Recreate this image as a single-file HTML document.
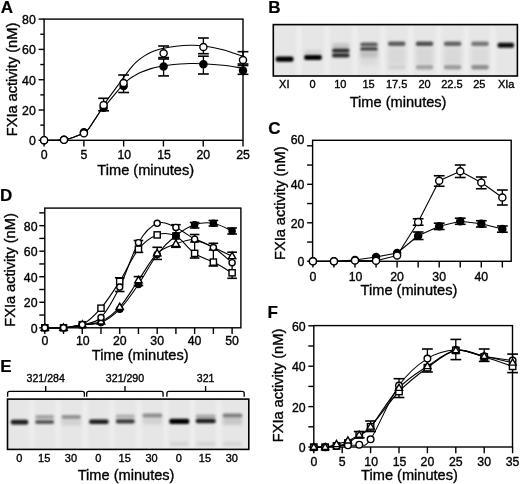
<!DOCTYPE html>
<html><head><meta charset="utf-8"><title>Figure</title>
<style>
html,body{margin:0;padding:0;background:#fff;}
body{width:520px;height:484px;overflow:hidden;font-family:"Liberation Sans", sans-serif;}
svg{display:block;}
</style></head><body>
<svg width="520" height="484" viewBox="0 0 520 484" font-family='"Liberation Sans", sans-serif' style="opacity:0.999">
<defs><filter id="bl" x="-50%" y="-150%" width="200%" height="400%"><feGaussianBlur stdDeviation="0.8"/></filter><filter id="bl2" x="-50%" y="-150%" width="200%" height="400%"><feGaussianBlur stdDeviation="1.6"/></filter><filter id="bl3" x="-30%" y="-30%" width="160%" height="160%"><feGaussianBlur stdDeviation="2.2"/></filter></defs>
<rect width="520" height="484" fill="#fff"/>
<text x="0.8" y="12.6" font-size="17" text-anchor="start" font-weight="bold" stroke="#000" stroke-width="0.2">A</text>
<rect x="44.1" y="19.1" width="198.9" height="121.2" fill="none" stroke="#000" stroke-width="1.4"/>
<line x1="38.6" y1="140.3" x2="44.1" y2="140.3" stroke="#000" stroke-width="1.4"/>
<line x1="38.6" y1="110" x2="44.1" y2="110" stroke="#000" stroke-width="1.4"/>
<line x1="38.6" y1="79.7" x2="44.1" y2="79.7" stroke="#000" stroke-width="1.4"/>
<line x1="38.6" y1="49.4" x2="44.1" y2="49.4" stroke="#000" stroke-width="1.4"/>
<line x1="38.6" y1="19.1" x2="44.1" y2="19.1" stroke="#000" stroke-width="1.4"/>
<line x1="40.3" y1="125.15" x2="44.1" y2="125.15" stroke="#000" stroke-width="1.4"/>
<line x1="40.3" y1="94.85" x2="44.1" y2="94.85" stroke="#000" stroke-width="1.4"/>
<line x1="40.3" y1="64.55" x2="44.1" y2="64.55" stroke="#000" stroke-width="1.4"/>
<line x1="40.3" y1="34.25" x2="44.1" y2="34.25" stroke="#000" stroke-width="1.4"/>
<line x1="44.1" y1="140.3" x2="44.1" y2="146.5" stroke="#000" stroke-width="1.4"/>
<line x1="83.88" y1="140.3" x2="83.88" y2="146.5" stroke="#000" stroke-width="1.4"/>
<line x1="123.66" y1="140.3" x2="123.66" y2="146.5" stroke="#000" stroke-width="1.4"/>
<line x1="163.44" y1="140.3" x2="163.44" y2="146.5" stroke="#000" stroke-width="1.4"/>
<line x1="203.22" y1="140.3" x2="203.22" y2="146.5" stroke="#000" stroke-width="1.4"/>
<line x1="243" y1="140.3" x2="243" y2="146.5" stroke="#000" stroke-width="1.4"/>
<text x="35.8" y="145.3" font-size="12.3" text-anchor="end" font-weight="normal" stroke="#000" stroke-width="0.35">0</text>
<text x="35.8" y="115" font-size="12.3" text-anchor="end" font-weight="normal" stroke="#000" stroke-width="0.35">20</text>
<text x="35.8" y="84.7" font-size="12.3" text-anchor="end" font-weight="normal" stroke="#000" stroke-width="0.35">40</text>
<text x="35.8" y="54.4" font-size="12.3" text-anchor="end" font-weight="normal" stroke="#000" stroke-width="0.35">60</text>
<text x="35.8" y="24.1" font-size="12.3" text-anchor="end" font-weight="normal" stroke="#000" stroke-width="0.35">80</text>
<text x="44.1" y="158.6" font-size="12.3" text-anchor="middle" font-weight="normal" stroke="#000" stroke-width="0.35">0</text>
<text x="83.88" y="158.6" font-size="12.3" text-anchor="middle" font-weight="normal" stroke="#000" stroke-width="0.35">5</text>
<text x="124.26" y="158.6" font-size="12.3" text-anchor="middle" font-weight="normal" stroke="#000" stroke-width="0.35">10</text>
<text x="164.04" y="158.6" font-size="12.3" text-anchor="middle" font-weight="normal" stroke="#000" stroke-width="0.35">15</text>
<text x="203.22" y="158.6" font-size="12.3" text-anchor="middle" font-weight="normal" stroke="#000" stroke-width="0.35">20</text>
<text x="243" y="158.6" font-size="12.3" text-anchor="middle" font-weight="normal" stroke="#000" stroke-width="0.35">25</text>
<text x="0" y="0" font-size="14.6" text-anchor="middle" stroke="#000" stroke-width="0.35" transform="translate(16.58,79.5) rotate(-90)">FXIa activity (nM)</text>
<text x="145.75" y="174.7" font-size="14.6" text-anchor="middle" font-weight="normal" stroke="#000" stroke-width="0.35">Time (minutes)</text>
<path d="M44,140.3 C46,140.28 52.77,140.32 56,140.2 C59.23,140.08 61.07,139.88 63.4,139.6 C65.73,139.32 67.57,139.17 70,138.5 C72.43,137.83 75.73,136.55 78,135.6 C80.27,134.65 81.93,133.82 83.6,132.8 C85.27,131.78 86.27,131.5 88,129.5 C89.73,127.5 92.1,123.63 94,120.8 C95.9,117.97 97.82,115 99.4,112.5 C100.98,110 102,108.17 103.5,105.8 C105,103.43 106.03,101.67 108.4,98.3 C110.77,94.93 114.93,89.38 117.7,85.6 C120.47,81.82 122.58,78.82 125,75.6 C127.42,72.38 129.95,68.87 132.2,66.3 C134.45,63.73 136.4,61.98 138.5,60.2 C140.6,58.42 142.72,56.92 144.8,55.6 C146.88,54.28 148.93,53.25 151,52.3 C153.07,51.35 155.1,50.57 157.2,49.9 C159.3,49.23 160.47,48.9 163.6,48.3 C166.73,47.7 171.6,46.8 176,46.3 C180.4,45.8 185.5,45.38 190,45.3 C194.5,45.22 197.5,45.05 203,45.8 C208.5,46.55 216.33,48.05 223,49.8 C229.67,51.55 239.67,55.22 243,56.3" fill="none" stroke="#000" stroke-width="1.1"/>
<path d="M44,140.3 C46,140.28 52.77,140.32 56,140.2 C59.23,140.08 61.07,139.88 63.4,139.6 C65.73,139.32 67.57,139.17 70,138.5 C72.43,137.83 75.73,136.55 78,135.6 C80.27,134.65 81.93,133.82 83.6,132.8 C85.27,131.78 86.27,131.5 88,129.5 C89.73,127.5 92.1,123.63 94,120.8 C95.9,117.97 97.82,114.75 99.4,112.5 C100.98,110.25 102.17,108.85 103.5,107.3 C104.83,105.75 105.03,105.95 107.4,103.2 C109.77,100.45 114.43,94.53 117.7,90.8 C120.97,87.07 124.12,83.37 127,80.8 C129.88,78.23 132.67,76.83 135,75.4 C137.33,73.97 138.33,73.33 141,72.2 C143.67,71.07 147.88,69.53 151,68.6 C154.12,67.67 156.87,67.17 159.7,66.6 C162.53,66.03 164.62,65.63 168,65.2 C171.38,64.77 176.33,64.28 180,64 C183.67,63.72 186.17,63.55 190,63.5 C193.83,63.45 197.5,63.4 203,63.7 C208.5,64 216.33,64.55 223,65.3 C229.67,66.05 239.67,67.72 243,68.2" fill="none" stroke="#000" stroke-width="1.1"/>
<line x1="103.6" y1="98.3" x2="103.6" y2="110.8" stroke="#000" stroke-width="1.3"/>
<line x1="98.2" y1="98.3" x2="109" y2="98.3" stroke="#000" stroke-width="1.6"/>
<line x1="98.2" y1="110.8" x2="109" y2="110.8" stroke="#000" stroke-width="1.6"/>
<line x1="123.6" y1="75" x2="123.6" y2="92.5" stroke="#000" stroke-width="1.3"/>
<line x1="118.2" y1="75" x2="129" y2="75" stroke="#000" stroke-width="1.6"/>
<line x1="118.2" y1="92.5" x2="129" y2="92.5" stroke="#000" stroke-width="1.6"/>
<line x1="163.6" y1="46" x2="163.6" y2="57.6" stroke="#000" stroke-width="1.3"/>
<line x1="158.2" y1="46" x2="169" y2="46" stroke="#000" stroke-width="1.6"/>
<line x1="158.2" y1="57.6" x2="169" y2="57.6" stroke="#000" stroke-width="1.6"/>
<line x1="163.6" y1="59" x2="163.6" y2="75.9" stroke="#000" stroke-width="1.3"/>
<line x1="158.2" y1="59" x2="169" y2="59" stroke="#000" stroke-width="1.6"/>
<line x1="158.2" y1="75.9" x2="169" y2="75.9" stroke="#000" stroke-width="1.6"/>
<line x1="203.4" y1="38" x2="203.4" y2="53.7" stroke="#000" stroke-width="1.3"/>
<line x1="198" y1="38" x2="208.8" y2="38" stroke="#000" stroke-width="1.6"/>
<line x1="198" y1="53.7" x2="208.8" y2="53.7" stroke="#000" stroke-width="1.6"/>
<line x1="203.4" y1="56.2" x2="203.4" y2="74" stroke="#000" stroke-width="1.3"/>
<line x1="198" y1="56.2" x2="208.8" y2="56.2" stroke="#000" stroke-width="1.6"/>
<line x1="198" y1="74" x2="208.8" y2="74" stroke="#000" stroke-width="1.6"/>
<line x1="243" y1="51.7" x2="243" y2="64" stroke="#000" stroke-width="1.3"/>
<line x1="237.6" y1="51.7" x2="248.4" y2="51.7" stroke="#000" stroke-width="1.6"/>
<line x1="237.6" y1="64" x2="248.4" y2="64" stroke="#000" stroke-width="1.6"/>
<line x1="243" y1="65.5" x2="243" y2="74.3" stroke="#000" stroke-width="1.3"/>
<line x1="237.6" y1="65.5" x2="248.4" y2="65.5" stroke="#000" stroke-width="1.6"/>
<line x1="237.6" y1="74.3" x2="248.4" y2="74.3" stroke="#000" stroke-width="1.6"/>
<circle cx="44.1" cy="140.2" r="3.55" fill="#000" stroke="#000" stroke-width="1.4"/>
<circle cx="64" cy="139.8" r="3.55" fill="#000" stroke="#000" stroke-width="1.4"/>
<circle cx="83.9" cy="132.2" r="3.55" fill="#000" stroke="#000" stroke-width="1.4"/>
<circle cx="103.6" cy="107.8" r="3.55" fill="#000" stroke="#000" stroke-width="1.4"/>
<circle cx="123.6" cy="85.9" r="3.55" fill="#000" stroke="#000" stroke-width="1.4"/>
<circle cx="163.6" cy="66.6" r="3.55" fill="#000" stroke="#000" stroke-width="1.4"/>
<circle cx="203.4" cy="64.3" r="3.55" fill="#000" stroke="#000" stroke-width="1.4"/>
<circle cx="243" cy="70.5" r="3.55" fill="#000" stroke="#000" stroke-width="1.4"/>
<circle cx="44.1" cy="140.2" r="3.55" fill="#fff" stroke="#000" stroke-width="1.4"/>
<circle cx="64" cy="139.8" r="3.55" fill="#fff" stroke="#000" stroke-width="1.4"/>
<circle cx="83.9" cy="133.3" r="3.55" fill="#fff" stroke="#000" stroke-width="1.4"/>
<circle cx="103.6" cy="105" r="3.55" fill="#fff" stroke="#000" stroke-width="1.4"/>
<circle cx="123.6" cy="83" r="3.55" fill="#fff" stroke="#000" stroke-width="1.4"/>
<circle cx="163.6" cy="53.3" r="3.55" fill="#fff" stroke="#000" stroke-width="1.4"/>
<circle cx="203.4" cy="47" r="3.55" fill="#fff" stroke="#000" stroke-width="1.4"/>
<circle cx="243" cy="60" r="3.55" fill="#fff" stroke="#000" stroke-width="1.4"/>
<text x="268.3" y="13" font-size="17" text-anchor="start" font-weight="bold" stroke="#000" stroke-width="0.2">B</text>
<rect x="273.3" y="24.6" width="244.1" height="51.4" fill="#e6e6e6"/>
<rect x="296.3" y="25.6" width="5" height="49.4" fill="#eeeeee" filter="url(#bl2)"/>
<rect x="324.4" y="25.6" width="5" height="49.4" fill="#eeeeee" filter="url(#bl2)"/>
<rect x="352.4" y="25.6" width="5" height="49.4" fill="#eeeeee" filter="url(#bl2)"/>
<rect x="380.35" y="25.6" width="5" height="49.4" fill="#eeeeee" filter="url(#bl2)"/>
<rect x="408.1" y="25.6" width="5" height="49.4" fill="#eeeeee" filter="url(#bl2)"/>
<rect x="436.05" y="25.6" width="5" height="49.4" fill="#eeeeee" filter="url(#bl2)"/>
<rect x="463.8" y="25.6" width="5" height="49.4" fill="#eeeeee" filter="url(#bl2)"/>
<rect x="490.4" y="25.6" width="5" height="49.4" fill="#eeeeee" filter="url(#bl2)"/>
<rect x="360.5" y="47" width="17" height="18" rx="2" fill="#dadada" filter="url(#bl3)"/>
<rect x="388.2" y="47" width="17" height="18" rx="2" fill="#d8d8d8" filter="url(#bl3)"/>
<rect x="416" y="47" width="17" height="18" rx="2" fill="#d6d6d6" filter="url(#bl3)"/>
<rect x="444.1" y="47" width="17" height="18" rx="2" fill="#d8d8d8" filter="url(#bl3)"/>
<rect x="471.5" y="47" width="17" height="18" rx="2" fill="#dadada" filter="url(#bl3)"/>
<rect x="275.7" y="56.5" width="17.8" height="5.2" rx="2" fill="#050505" filter="url(#bl)"/>
<rect x="304.25" y="50" width="17.5" height="5" rx="2" fill="#d0d0d0" filter="url(#bl2)"/>
<rect x="304.1" y="54.9" width="17.8" height="5" rx="2" fill="#050505" filter="url(#bl)"/>
<rect x="332.05" y="43" width="17.5" height="6" rx="2" fill="#c6c6c6" filter="url(#bl2)"/>
<rect x="332.05" y="48.6" width="17.5" height="4.2" rx="2" fill="#333" filter="url(#bl)"/>
<rect x="332.05" y="53.2" width="17.5" height="4.2" rx="2" fill="#2a2a2a" filter="url(#bl)"/>
<rect x="360.25" y="42.4" width="17.5" height="4.2" rx="2" fill="#5a5a5a" filter="url(#bl)"/>
<rect x="360.25" y="47.1" width="17.5" height="4.2" rx="2" fill="#4a4a4a" filter="url(#bl)"/>
<rect x="360.25" y="51.5" width="17.5" height="6" rx="2" fill="#c0c0c0" filter="url(#bl2)"/>
<rect x="387.95" y="41.5" width="17.5" height="4.4" rx="2" fill="#5c5c5c" filter="url(#bl)"/>
<rect x="387.95" y="64.9" width="17.5" height="4.6" rx="2" fill="#d2d2d2" filter="url(#bl)"/>
<rect x="415.75" y="41.5" width="17.5" height="4.4" rx="2" fill="#505050" filter="url(#bl)"/>
<rect x="415.75" y="64.9" width="17.5" height="4.6" rx="2" fill="#a4a4a4" filter="url(#bl)"/>
<rect x="443.85" y="41.5" width="17.5" height="4.4" rx="2" fill="#646464" filter="url(#bl)"/>
<rect x="443.85" y="64.9" width="17.5" height="4.6" rx="2" fill="#9c9c9c" filter="url(#bl)"/>
<rect x="471.25" y="41.5" width="17.5" height="4.4" rx="2" fill="#767676" filter="url(#bl)"/>
<rect x="471.25" y="64.9" width="17.5" height="4.6" rx="2" fill="#8e8e8e" filter="url(#bl)"/>
<rect x="497.55" y="42.7" width="16.5" height="5" rx="2" fill="#0a0a0a" filter="url(#bl)"/>
<rect x="273.3" y="24.6" width="244.1" height="51.4" fill="none" stroke="#000" stroke-width="1.6"/>
<text x="284.3" y="88.3" font-size="11" text-anchor="middle" font-weight="normal" stroke="#000" stroke-width="0.35">XI</text>
<text x="312.6" y="88.3" font-size="11" text-anchor="middle" font-weight="normal" stroke="#000" stroke-width="0.35">0</text>
<text x="340.3" y="88.3" font-size="11" text-anchor="middle" font-weight="normal" stroke="#000" stroke-width="0.35">10</text>
<text x="368.6" y="88.3" font-size="11" text-anchor="middle" font-weight="normal" stroke="#000" stroke-width="0.35">15</text>
<text x="396.6" y="88.3" font-size="11" text-anchor="middle" font-weight="normal" stroke="#000" stroke-width="0.35">17.5</text>
<text x="424.5" y="88.3" font-size="11" text-anchor="middle" font-weight="normal" stroke="#000" stroke-width="0.35">20</text>
<text x="451.9" y="88.3" font-size="11" text-anchor="middle" font-weight="normal" stroke="#000" stroke-width="0.35">22.5</text>
<text x="479.3" y="88.3" font-size="11" text-anchor="middle" font-weight="normal" stroke="#000" stroke-width="0.35">25</text>
<text x="506.2" y="88.3" font-size="11" text-anchor="middle" font-weight="normal" stroke="#000" stroke-width="0.35">XIa</text>
<text x="398.1" y="106.7" font-size="14.6" text-anchor="middle" font-weight="normal" stroke="#000" stroke-width="0.35">Time (minutes)</text>
<text x="268.2" y="133.8" font-size="17" text-anchor="start" font-weight="bold" stroke="#000" stroke-width="0.2">C</text>
<rect x="312.6" y="140.3" width="198.6" height="121" fill="none" stroke="#000" stroke-width="1.4"/>
<line x1="307.1" y1="261.3" x2="312.6" y2="261.3" stroke="#000" stroke-width="1.4"/>
<line x1="307.1" y1="242.05" x2="312.6" y2="242.05" stroke="#000" stroke-width="1.4"/>
<line x1="307.1" y1="222.8" x2="312.6" y2="222.8" stroke="#000" stroke-width="1.4"/>
<line x1="307.1" y1="203.55" x2="312.6" y2="203.55" stroke="#000" stroke-width="1.4"/>
<line x1="307.1" y1="184.3" x2="312.6" y2="184.3" stroke="#000" stroke-width="1.4"/>
<line x1="307.1" y1="165.05" x2="312.6" y2="165.05" stroke="#000" stroke-width="1.4"/>
<line x1="307.1" y1="145.8" x2="312.6" y2="145.8" stroke="#000" stroke-width="1.4"/>
<line x1="312.9" y1="261.3" x2="312.9" y2="267.5" stroke="#000" stroke-width="1.4"/>
<line x1="333.95" y1="261.3" x2="333.95" y2="267.5" stroke="#000" stroke-width="1.4"/>
<line x1="355" y1="261.3" x2="355" y2="267.5" stroke="#000" stroke-width="1.4"/>
<line x1="376.05" y1="261.3" x2="376.05" y2="267.5" stroke="#000" stroke-width="1.4"/>
<line x1="397.1" y1="261.3" x2="397.1" y2="267.5" stroke="#000" stroke-width="1.4"/>
<line x1="418.15" y1="261.3" x2="418.15" y2="267.5" stroke="#000" stroke-width="1.4"/>
<line x1="439.2" y1="261.3" x2="439.2" y2="267.5" stroke="#000" stroke-width="1.4"/>
<line x1="460.25" y1="261.3" x2="460.25" y2="267.5" stroke="#000" stroke-width="1.4"/>
<line x1="481.3" y1="261.3" x2="481.3" y2="267.5" stroke="#000" stroke-width="1.4"/>
<line x1="502.35" y1="261.3" x2="502.35" y2="267.5" stroke="#000" stroke-width="1.4"/>
<text x="304.4" y="266.3" font-size="12.3" text-anchor="end" font-weight="normal" stroke="#000" stroke-width="0.35">0</text>
<text x="304.4" y="227.8" font-size="12.3" text-anchor="end" font-weight="normal" stroke="#000" stroke-width="0.35">20</text>
<text x="304.4" y="189.3" font-size="12.3" text-anchor="end" font-weight="normal" stroke="#000" stroke-width="0.35">40</text>
<text x="304.4" y="144.2" font-size="12.3" text-anchor="end" font-weight="normal" stroke="#000" stroke-width="0.35">60</text>
<text x="312.9" y="280.6" font-size="12.3" text-anchor="middle" font-weight="normal" stroke="#000" stroke-width="0.35">0</text>
<text x="355.6" y="280.6" font-size="12.3" text-anchor="middle" font-weight="normal" stroke="#000" stroke-width="0.35">10</text>
<text x="397.1" y="280.6" font-size="12.3" text-anchor="middle" font-weight="normal" stroke="#000" stroke-width="0.35">20</text>
<text x="439.2" y="280.6" font-size="12.3" text-anchor="middle" font-weight="normal" stroke="#000" stroke-width="0.35">30</text>
<text x="481.3" y="280.6" font-size="12.3" text-anchor="middle" font-weight="normal" stroke="#000" stroke-width="0.35">40</text>
<text x="0" y="0" font-size="14.6" text-anchor="middle" stroke="#000" stroke-width="0.35" transform="translate(284.83,203.25) rotate(-90)">FXIa activity (nM)</text>
<text x="409" y="295.2" font-size="14.6" text-anchor="middle" font-weight="normal" stroke="#000" stroke-width="0.35">Time (minutes)</text>
<polyline points="312.9,261.3 333.95,261.3 355,260 376.05,257 397.1,253 418.15,235.75 439.2,226.25 460.25,221.25 481.3,223.75 502.35,229" fill="none" stroke="#000" stroke-width="1.1" stroke-linejoin="round"/>
<polyline points="312.9,261.3 333.95,261.3 355,260.5 376.05,260.75 397.1,255.5 418.15,222 439.2,180.75 460.25,171.25 481.3,182.5 502.35,197.5" fill="none" stroke="#000" stroke-width="1.1" stroke-linejoin="round"/>
<line x1="418.15" y1="218.75" x2="418.15" y2="225.2" stroke="#000" stroke-width="1.3"/>
<line x1="412.75" y1="218.75" x2="423.55" y2="218.75" stroke="#000" stroke-width="1.6"/>
<line x1="412.75" y1="225.2" x2="423.55" y2="225.2" stroke="#000" stroke-width="1.6"/>
<line x1="439.2" y1="175.75" x2="439.2" y2="186.25" stroke="#000" stroke-width="1.3"/>
<line x1="433.8" y1="175.75" x2="444.6" y2="175.75" stroke="#000" stroke-width="1.6"/>
<line x1="433.8" y1="186.25" x2="444.6" y2="186.25" stroke="#000" stroke-width="1.6"/>
<line x1="460.25" y1="165" x2="460.25" y2="177.5" stroke="#000" stroke-width="1.3"/>
<line x1="454.85" y1="165" x2="465.65" y2="165" stroke="#000" stroke-width="1.6"/>
<line x1="454.85" y1="177.5" x2="465.65" y2="177.5" stroke="#000" stroke-width="1.6"/>
<line x1="481.3" y1="177" x2="481.3" y2="188.75" stroke="#000" stroke-width="1.3"/>
<line x1="475.9" y1="177" x2="486.7" y2="177" stroke="#000" stroke-width="1.6"/>
<line x1="475.9" y1="188.75" x2="486.7" y2="188.75" stroke="#000" stroke-width="1.6"/>
<line x1="502.35" y1="190" x2="502.35" y2="205" stroke="#000" stroke-width="1.3"/>
<line x1="496.95" y1="190" x2="507.75" y2="190" stroke="#000" stroke-width="1.6"/>
<line x1="496.95" y1="205" x2="507.75" y2="205" stroke="#000" stroke-width="1.6"/>
<line x1="418.15" y1="232" x2="418.15" y2="239.5" stroke="#000" stroke-width="1.3"/>
<line x1="412.75" y1="232" x2="423.55" y2="232" stroke="#000" stroke-width="1.6"/>
<line x1="412.75" y1="239.5" x2="423.55" y2="239.5" stroke="#000" stroke-width="1.6"/>
<line x1="439.2" y1="223.2" x2="439.2" y2="229.5" stroke="#000" stroke-width="1.3"/>
<line x1="433.8" y1="223.2" x2="444.6" y2="223.2" stroke="#000" stroke-width="1.6"/>
<line x1="433.8" y1="229.5" x2="444.6" y2="229.5" stroke="#000" stroke-width="1.6"/>
<line x1="460.25" y1="218.2" x2="460.25" y2="224.3" stroke="#000" stroke-width="1.3"/>
<line x1="454.85" y1="218.2" x2="465.65" y2="218.2" stroke="#000" stroke-width="1.6"/>
<line x1="454.85" y1="224.3" x2="465.65" y2="224.3" stroke="#000" stroke-width="1.6"/>
<line x1="481.3" y1="220.7" x2="481.3" y2="227" stroke="#000" stroke-width="1.3"/>
<line x1="475.9" y1="220.7" x2="486.7" y2="220.7" stroke="#000" stroke-width="1.6"/>
<line x1="475.9" y1="227" x2="486.7" y2="227" stroke="#000" stroke-width="1.6"/>
<line x1="502.35" y1="226" x2="502.35" y2="232.2" stroke="#000" stroke-width="1.3"/>
<line x1="496.95" y1="226" x2="507.75" y2="226" stroke="#000" stroke-width="1.6"/>
<line x1="496.95" y1="232.2" x2="507.75" y2="232.2" stroke="#000" stroke-width="1.6"/>
<circle cx="312.9" cy="261.3" r="3.55" fill="#000" stroke="#000" stroke-width="1.4"/>
<circle cx="333.95" cy="261.3" r="3.55" fill="#000" stroke="#000" stroke-width="1.4"/>
<circle cx="355" cy="260" r="3.55" fill="#000" stroke="#000" stroke-width="1.4"/>
<circle cx="376.05" cy="257" r="3.55" fill="#000" stroke="#000" stroke-width="1.4"/>
<circle cx="397.1" cy="253" r="3.55" fill="#000" stroke="#000" stroke-width="1.4"/>
<circle cx="418.15" cy="235.75" r="3.55" fill="#000" stroke="#000" stroke-width="1.4"/>
<circle cx="439.2" cy="226.25" r="3.55" fill="#000" stroke="#000" stroke-width="1.4"/>
<circle cx="460.25" cy="221.25" r="3.55" fill="#000" stroke="#000" stroke-width="1.4"/>
<circle cx="481.3" cy="223.75" r="3.55" fill="#000" stroke="#000" stroke-width="1.4"/>
<circle cx="502.35" cy="229" r="3.55" fill="#000" stroke="#000" stroke-width="1.4"/>
<circle cx="312.9" cy="261.3" r="3.55" fill="#fff" stroke="#000" stroke-width="1.4"/>
<circle cx="333.95" cy="261.3" r="3.55" fill="#fff" stroke="#000" stroke-width="1.4"/>
<circle cx="355" cy="260.5" r="3.55" fill="#fff" stroke="#000" stroke-width="1.4"/>
<circle cx="376.05" cy="260.75" r="3.55" fill="#fff" stroke="#000" stroke-width="1.4"/>
<circle cx="397.1" cy="255.5" r="3.55" fill="#fff" stroke="#000" stroke-width="1.4"/>
<circle cx="418.15" cy="222" r="3.55" fill="#fff" stroke="#000" stroke-width="1.4"/>
<circle cx="439.2" cy="180.75" r="3.55" fill="#fff" stroke="#000" stroke-width="1.4"/>
<circle cx="460.25" cy="171.25" r="3.55" fill="#fff" stroke="#000" stroke-width="1.4"/>
<circle cx="481.3" cy="182.5" r="3.55" fill="#fff" stroke="#000" stroke-width="1.4"/>
<circle cx="502.35" cy="197.5" r="3.55" fill="#fff" stroke="#000" stroke-width="1.4"/>
<text x="-0.1" y="201.2" font-size="17" text-anchor="start" font-weight="bold" stroke="#000" stroke-width="0.2">D</text>
<rect x="44.8" y="208.1" width="196.1" height="119.7" fill="none" stroke="#000" stroke-width="1.4"/>
<line x1="39.3" y1="327.8" x2="44.8" y2="327.8" stroke="#000" stroke-width="1.4"/>
<line x1="39.3" y1="315.03" x2="44.8" y2="315.03" stroke="#000" stroke-width="1.4"/>
<line x1="39.3" y1="302.26" x2="44.8" y2="302.26" stroke="#000" stroke-width="1.4"/>
<line x1="39.3" y1="289.49" x2="44.8" y2="289.49" stroke="#000" stroke-width="1.4"/>
<line x1="39.3" y1="276.72" x2="44.8" y2="276.72" stroke="#000" stroke-width="1.4"/>
<line x1="39.3" y1="263.95" x2="44.8" y2="263.95" stroke="#000" stroke-width="1.4"/>
<line x1="39.3" y1="251.18" x2="44.8" y2="251.18" stroke="#000" stroke-width="1.4"/>
<line x1="39.3" y1="238.41" x2="44.8" y2="238.41" stroke="#000" stroke-width="1.4"/>
<line x1="39.3" y1="225.64" x2="44.8" y2="225.64" stroke="#000" stroke-width="1.4"/>
<line x1="39.3" y1="212.87" x2="44.8" y2="212.87" stroke="#000" stroke-width="1.4"/>
<line x1="44.8" y1="327.8" x2="44.8" y2="334" stroke="#000" stroke-width="1.4"/>
<line x1="63.53" y1="327.8" x2="63.53" y2="334" stroke="#000" stroke-width="1.4"/>
<line x1="82.26" y1="327.8" x2="82.26" y2="334" stroke="#000" stroke-width="1.4"/>
<line x1="100.99" y1="327.8" x2="100.99" y2="334" stroke="#000" stroke-width="1.4"/>
<line x1="119.72" y1="327.8" x2="119.72" y2="334" stroke="#000" stroke-width="1.4"/>
<line x1="138.45" y1="327.8" x2="138.45" y2="334" stroke="#000" stroke-width="1.4"/>
<line x1="157.18" y1="327.8" x2="157.18" y2="334" stroke="#000" stroke-width="1.4"/>
<line x1="175.91" y1="327.8" x2="175.91" y2="334" stroke="#000" stroke-width="1.4"/>
<line x1="194.64" y1="327.8" x2="194.64" y2="334" stroke="#000" stroke-width="1.4"/>
<line x1="213.37" y1="327.8" x2="213.37" y2="334" stroke="#000" stroke-width="1.4"/>
<line x1="232.1" y1="327.8" x2="232.1" y2="334" stroke="#000" stroke-width="1.4"/>
<text x="37.5" y="332.8" font-size="12.3" text-anchor="end" font-weight="normal" stroke="#000" stroke-width="0.35">0</text>
<text x="37.5" y="307.26" font-size="12.3" text-anchor="end" font-weight="normal" stroke="#000" stroke-width="0.35">20</text>
<text x="37.5" y="281.72" font-size="12.3" text-anchor="end" font-weight="normal" stroke="#000" stroke-width="0.35">40</text>
<text x="37.5" y="256.18" font-size="12.3" text-anchor="end" font-weight="normal" stroke="#000" stroke-width="0.35">60</text>
<text x="37.5" y="230.64" font-size="12.3" text-anchor="end" font-weight="normal" stroke="#000" stroke-width="0.35">80</text>
<text x="44.8" y="345.2" font-size="12.3" text-anchor="middle" font-weight="normal" stroke="#000" stroke-width="0.35">0</text>
<text x="82.86" y="345.2" font-size="12.3" text-anchor="middle" font-weight="normal" stroke="#000" stroke-width="0.35">10</text>
<text x="119.72" y="345.2" font-size="12.3" text-anchor="middle" font-weight="normal" stroke="#000" stroke-width="0.35">20</text>
<text x="157.18" y="345.2" font-size="12.3" text-anchor="middle" font-weight="normal" stroke="#000" stroke-width="0.35">30</text>
<text x="194.64" y="345.2" font-size="12.3" text-anchor="middle" font-weight="normal" stroke="#000" stroke-width="0.35">40</text>
<text x="232.1" y="345.2" font-size="12.3" text-anchor="middle" font-weight="normal" stroke="#000" stroke-width="0.35">50</text>
<text x="0" y="0" font-size="14.6" text-anchor="middle" stroke="#000" stroke-width="0.35" transform="translate(14.68,270) rotate(-90)">FXIa activity (nM)</text>
<text x="140.2" y="359.6" font-size="14.6" text-anchor="middle" font-weight="normal" stroke="#000" stroke-width="0.35">Time (minutes)</text>
<path d="M44.8,327.8 C47.92,327.8 57.29,328.32 63.53,327.8 C69.77,327.28 76.02,326.42 82.26,324.7 C88.5,322.98 94.75,323.77 100.99,317.5 C107.23,311.23 113.48,299.57 119.72,287.1 C125.96,274.63 132.21,253.33 138.45,242.7 C144.69,232.07 150.94,225.85 157.18,223.3 C163.42,220.75 169.67,224.75 175.91,227.4 C182.15,230.05 188.4,235.85 194.64,239.2 C200.88,242.55 207.13,243.58 213.37,247.5 C219.61,251.42 228.98,260.17 232.1,262.7" fill="none" stroke="#000" stroke-width="1.1"/>
<path d="M44.8,327.8 C47.92,327.8 57.29,328.32 63.53,327.8 C69.77,327.28 76.02,327.97 82.26,324.7 C88.5,321.43 94.75,315.42 100.99,308.2 C107.23,300.98 113.48,291.23 119.72,281.4 C125.96,271.57 132.21,256.95 138.45,249.2 C144.69,241.45 150.94,237.1 157.18,234.9 C163.42,232.7 169.67,232.92 175.91,236 C182.15,239.08 188.4,249.05 194.64,253.4 C200.88,257.75 207.13,258.87 213.37,262.1 C219.61,265.33 228.98,271.02 232.1,272.8" fill="none" stroke="#000" stroke-width="1.1"/>
<path d="M44.8,327.8 C47.92,327.8 57.29,328.32 63.53,327.8 C69.77,327.28 76.02,325.73 82.26,324.7 C88.5,323.67 94.75,324.53 100.99,321.6 C107.23,318.67 113.48,313.98 119.72,307.1 C125.96,300.22 132.21,289.25 138.45,280.3 C144.69,271.35 150.94,259.47 157.18,253.4 C163.42,247.33 169.67,246.22 175.91,243.9 C182.15,241.58 188.4,238.9 194.64,239.5 C200.88,240.1 207.13,244.72 213.37,247.5 C219.61,250.28 228.98,254.75 232.1,256.2" fill="none" stroke="#000" stroke-width="1.1"/>
<path d="M44.8,327.8 C47.92,327.8 57.29,328.32 63.53,327.8 C69.77,327.28 76.02,325.57 82.26,324.7 C88.5,323.83 94.75,325.18 100.99,322.6 C107.23,320.02 113.48,315.57 119.72,309.2 C125.96,302.83 132.21,293.52 138.45,284.4 C144.69,275.28 150.94,262.65 157.18,254.5 C163.42,246.35 169.67,240.47 175.91,235.5 C182.15,230.53 188.4,226.73 194.64,224.7 C200.88,222.67 207.13,222.25 213.37,223.3 C219.61,224.35 228.98,229.72 232.1,231" fill="none" stroke="#000" stroke-width="1.1"/>
<line x1="119.72" y1="277.8" x2="119.72" y2="291.5" stroke="#000" stroke-width="1.3"/>
<line x1="114.92" y1="277.8" x2="124.52" y2="277.8" stroke="#000" stroke-width="1.6"/>
<line x1="114.92" y1="291.5" x2="124.52" y2="291.5" stroke="#000" stroke-width="1.6"/>
<line x1="138.45" y1="240.5" x2="138.45" y2="252.4" stroke="#000" stroke-width="1.3"/>
<line x1="133.65" y1="240.5" x2="143.25" y2="240.5" stroke="#000" stroke-width="1.6"/>
<line x1="133.65" y1="252.4" x2="143.25" y2="252.4" stroke="#000" stroke-width="1.6"/>
<line x1="157.18" y1="247.3" x2="157.18" y2="259.4" stroke="#000" stroke-width="1.3"/>
<line x1="152.38" y1="247.3" x2="161.98" y2="247.3" stroke="#000" stroke-width="1.6"/>
<line x1="152.38" y1="259.4" x2="161.98" y2="259.4" stroke="#000" stroke-width="1.6"/>
<line x1="175.91" y1="224.7" x2="175.91" y2="247.3" stroke="#000" stroke-width="1.3"/>
<line x1="171.11" y1="224.7" x2="180.71" y2="224.7" stroke="#000" stroke-width="1.6"/>
<line x1="171.11" y1="247.3" x2="180.71" y2="247.3" stroke="#000" stroke-width="1.6"/>
<line x1="194.64" y1="222.5" x2="194.64" y2="228" stroke="#000" stroke-width="1.3"/>
<line x1="189.84" y1="222.5" x2="199.44" y2="222.5" stroke="#000" stroke-width="1.6"/>
<line x1="189.84" y1="228" x2="199.44" y2="228" stroke="#000" stroke-width="1.6"/>
<line x1="194.64" y1="234.5" x2="194.64" y2="258" stroke="#000" stroke-width="1.3"/>
<line x1="189.84" y1="234.5" x2="199.44" y2="234.5" stroke="#000" stroke-width="1.6"/>
<line x1="189.84" y1="258" x2="199.44" y2="258" stroke="#000" stroke-width="1.6"/>
<line x1="213.37" y1="220.5" x2="213.37" y2="226" stroke="#000" stroke-width="1.3"/>
<line x1="208.57" y1="220.5" x2="218.17" y2="220.5" stroke="#000" stroke-width="1.6"/>
<line x1="208.57" y1="226" x2="218.17" y2="226" stroke="#000" stroke-width="1.6"/>
<line x1="213.37" y1="243.3" x2="213.37" y2="266" stroke="#000" stroke-width="1.3"/>
<line x1="208.57" y1="243.3" x2="218.17" y2="243.3" stroke="#000" stroke-width="1.6"/>
<line x1="208.57" y1="266" x2="218.17" y2="266" stroke="#000" stroke-width="1.6"/>
<line x1="232.1" y1="228" x2="232.1" y2="234" stroke="#000" stroke-width="1.3"/>
<line x1="227.3" y1="228" x2="236.9" y2="228" stroke="#000" stroke-width="1.6"/>
<line x1="227.3" y1="234" x2="236.9" y2="234" stroke="#000" stroke-width="1.6"/>
<line x1="232.1" y1="252.2" x2="232.1" y2="278.3" stroke="#000" stroke-width="1.3"/>
<line x1="227.3" y1="252.2" x2="236.9" y2="252.2" stroke="#000" stroke-width="1.6"/>
<line x1="227.3" y1="278.3" x2="236.9" y2="278.3" stroke="#000" stroke-width="1.6"/>
<line x1="138.45" y1="276.6" x2="138.45" y2="285.5" stroke="#000" stroke-width="1.3"/>
<line x1="133.65" y1="276.6" x2="143.25" y2="276.6" stroke="#000" stroke-width="1.6"/>
<line x1="133.65" y1="285.5" x2="143.25" y2="285.5" stroke="#000" stroke-width="1.6"/>
<rect x="41.7" y="324.7" width="6.2" height="6.2" fill="#fff" stroke="#000" stroke-width="1.4"/>
<rect x="60.43" y="324.7" width="6.2" height="6.2" fill="#fff" stroke="#000" stroke-width="1.4"/>
<rect x="79.16" y="321.6" width="6.2" height="6.2" fill="#fff" stroke="#000" stroke-width="1.4"/>
<rect x="97.89" y="305.1" width="6.2" height="6.2" fill="#fff" stroke="#000" stroke-width="1.4"/>
<rect x="116.62" y="278.3" width="6.2" height="6.2" fill="#fff" stroke="#000" stroke-width="1.4"/>
<rect x="135.35" y="246.1" width="6.2" height="6.2" fill="#fff" stroke="#000" stroke-width="1.4"/>
<rect x="154.08" y="231.8" width="6.2" height="6.2" fill="#fff" stroke="#000" stroke-width="1.4"/>
<rect x="172.81" y="232.9" width="6.2" height="6.2" fill="#fff" stroke="#000" stroke-width="1.4"/>
<rect x="191.54" y="250.3" width="6.2" height="6.2" fill="#fff" stroke="#000" stroke-width="1.4"/>
<rect x="210.27" y="259" width="6.2" height="6.2" fill="#fff" stroke="#000" stroke-width="1.4"/>
<rect x="229" y="269.7" width="6.2" height="6.2" fill="#fff" stroke="#000" stroke-width="1.4"/>
<circle cx="44.8" cy="327.8" r="3.1" fill="#000" stroke="#000" stroke-width="1.4"/>
<circle cx="63.53" cy="327.8" r="3.1" fill="#000" stroke="#000" stroke-width="1.4"/>
<circle cx="82.26" cy="324.7" r="3.1" fill="#000" stroke="#000" stroke-width="1.4"/>
<circle cx="100.99" cy="322.6" r="3.1" fill="#000" stroke="#000" stroke-width="1.4"/>
<circle cx="119.72" cy="309.2" r="3.1" fill="#000" stroke="#000" stroke-width="1.4"/>
<circle cx="138.45" cy="284.4" r="3.1" fill="#000" stroke="#000" stroke-width="1.4"/>
<circle cx="157.18" cy="254.5" r="3.1" fill="#000" stroke="#000" stroke-width="1.4"/>
<circle cx="175.91" cy="235.5" r="3.1" fill="#000" stroke="#000" stroke-width="1.4"/>
<circle cx="194.64" cy="224.7" r="3.1" fill="#000" stroke="#000" stroke-width="1.4"/>
<circle cx="213.37" cy="223.3" r="3.1" fill="#000" stroke="#000" stroke-width="1.4"/>
<circle cx="232.1" cy="231" r="3.1" fill="#000" stroke="#000" stroke-width="1.4"/>
<polygon points="44.8,323.83 41.1,330.24 48.5,330.24" fill="#fff" stroke="#000" stroke-width="1.4" stroke-linejoin="miter"/>
<polygon points="63.53,323.83 59.83,330.24 67.23,330.24" fill="#fff" stroke="#000" stroke-width="1.4" stroke-linejoin="miter"/>
<polygon points="82.26,320.73 78.56,327.14 85.96,327.14" fill="#fff" stroke="#000" stroke-width="1.4" stroke-linejoin="miter"/>
<polygon points="100.99,317.63 97.29,324.04 104.69,324.04" fill="#fff" stroke="#000" stroke-width="1.4" stroke-linejoin="miter"/>
<polygon points="119.72,303.13 116.02,309.54 123.42,309.54" fill="#fff" stroke="#000" stroke-width="1.4" stroke-linejoin="miter"/>
<polygon points="138.45,276.33 134.75,282.74 142.15,282.74" fill="#fff" stroke="#000" stroke-width="1.4" stroke-linejoin="miter"/>
<polygon points="157.18,249.43 153.48,255.84 160.88,255.84" fill="#fff" stroke="#000" stroke-width="1.4" stroke-linejoin="miter"/>
<polygon points="175.91,239.93 172.21,246.34 179.61,246.34" fill="#fff" stroke="#000" stroke-width="1.4" stroke-linejoin="miter"/>
<polygon points="194.64,235.53 190.94,241.94 198.34,241.94" fill="#fff" stroke="#000" stroke-width="1.4" stroke-linejoin="miter"/>
<polygon points="213.37,243.53 209.67,249.94 217.07,249.94" fill="#fff" stroke="#000" stroke-width="1.4" stroke-linejoin="miter"/>
<polygon points="232.1,252.23 228.4,258.64 235.8,258.64" fill="#fff" stroke="#000" stroke-width="1.4" stroke-linejoin="miter"/>
<circle cx="44.8" cy="327.8" r="3.05" fill="#fff" stroke="#000" stroke-width="1.4"/>
<circle cx="63.53" cy="327.8" r="3.05" fill="#fff" stroke="#000" stroke-width="1.4"/>
<circle cx="82.26" cy="324.7" r="3.05" fill="#fff" stroke="#000" stroke-width="1.4"/>
<circle cx="100.99" cy="317.5" r="3.05" fill="#fff" stroke="#000" stroke-width="1.4"/>
<circle cx="119.72" cy="287.1" r="3.05" fill="#fff" stroke="#000" stroke-width="1.4"/>
<circle cx="138.45" cy="242.7" r="3.05" fill="#fff" stroke="#000" stroke-width="1.4"/>
<circle cx="157.18" cy="223.3" r="3.05" fill="#fff" stroke="#000" stroke-width="1.4"/>
<circle cx="175.91" cy="227.4" r="3.05" fill="#fff" stroke="#000" stroke-width="1.4"/>
<circle cx="194.64" cy="239.2" r="3.05" fill="#fff" stroke="#000" stroke-width="1.4"/>
<circle cx="213.37" cy="247.5" r="3.05" fill="#fff" stroke="#000" stroke-width="1.4"/>
<circle cx="232.1" cy="262.7" r="3.05" fill="#fff" stroke="#000" stroke-width="1.4"/>
<text x="0.3" y="371.8" font-size="17" text-anchor="start" font-weight="bold" stroke="#000" stroke-width="0.2">E</text>
<rect x="7.5" y="399.1" width="241.3" height="50.3" fill="#e6e6e6"/>
<rect x="29.55" y="400.1" width="5" height="48.3" fill="#eeeeee" filter="url(#bl2)"/>
<rect x="55.4" y="400.1" width="5" height="48.3" fill="#eeeeee" filter="url(#bl2)"/>
<rect x="82.55" y="400.1" width="5" height="48.3" fill="#eeeeee" filter="url(#bl2)"/>
<rect x="109.6" y="400.1" width="5" height="48.3" fill="#eeeeee" filter="url(#bl2)"/>
<rect x="136.35" y="400.1" width="5" height="48.3" fill="#eeeeee" filter="url(#bl2)"/>
<rect x="163.35" y="400.1" width="5" height="48.3" fill="#eeeeee" filter="url(#bl2)"/>
<rect x="190" y="400.1" width="5" height="48.3" fill="#eeeeee" filter="url(#bl2)"/>
<rect x="216.6" y="400.1" width="5" height="48.3" fill="#eeeeee" filter="url(#bl2)"/>
<rect x="61.45" y="418.5" width="19.5" height="7" rx="2" fill="#d2d2d2" filter="url(#bl2)"/>
<rect x="142.65" y="417.5" width="19.5" height="7" rx="2" fill="#d2d2d2" filter="url(#bl2)"/>
<rect x="222.75" y="417" width="19.5" height="8" rx="2" fill="#c8c8c8" filter="url(#bl2)"/>
<rect x="10.75" y="419.8" width="17.5" height="4.6" rx="2" fill="#1a1a1a" filter="url(#bl)"/>
<rect x="35.1" y="414.9" width="19" height="4" rx="2" fill="#a4a4a4" filter="url(#bl)"/>
<rect x="35.1" y="420.1" width="19" height="4" rx="2" fill="#585858" filter="url(#bl)"/>
<rect x="61.45" y="414.9" width="19.5" height="4" rx="2" fill="#939393" filter="url(#bl)"/>
<rect x="89.15" y="419.5" width="19.5" height="4.6" rx="2" fill="#1c1c1c" filter="url(#bl)"/>
<rect x="115.8" y="414.5" width="19" height="3.8" rx="1.9" fill="#b0b0b0" filter="url(#bl)"/>
<rect x="115.8" y="419.2" width="19" height="4.2" rx="2" fill="#3a3a3a" filter="url(#bl)"/>
<rect x="142.4" y="413.6" width="20" height="4" rx="2" fill="#8c8c8c" filter="url(#bl)"/>
<rect x="169.3" y="418.7" width="20" height="5.2" rx="2" fill="#050505" filter="url(#bl)"/>
<rect x="195.7" y="414.5" width="20" height="3.8" rx="1.9" fill="#a8a8a8" filter="url(#bl)"/>
<rect x="195.7" y="418.8" width="20" height="4.4" rx="2" fill="#1e1e1e" filter="url(#bl)"/>
<rect x="222.5" y="413.6" width="20" height="4" rx="2" fill="#7e7e7e" filter="url(#bl)"/>
<rect x="169.8" y="441.7" width="19" height="4" rx="2" fill="#d2d2d2" filter="url(#bl2)"/>
<rect x="196.2" y="441.7" width="19" height="4" rx="2" fill="#d2d2d2" filter="url(#bl2)"/>
<rect x="223" y="441.7" width="19" height="4" rx="2" fill="#d2d2d2" filter="url(#bl2)"/>
<rect x="7.5" y="399.1" width="241.3" height="50.3" fill="none" stroke="#000" stroke-width="1.6"/>
<path d="M7.6,396.8 L7.6,393.3 Q7.6,391.4 9.6,391.4 L82.4,391.4 Q84.4,391.4 84.4,393.3 L84.4,396.8 M45.7,391.4 L45.7,386" fill="none" stroke="#000" stroke-width="1.35"/>
<text x="45.7" y="382.2" font-size="10.6" text-anchor="middle" font-weight="normal" stroke="#000" stroke-width="0.35">321/284</text>
<path d="M86.7,396.8 L86.7,393.3 Q86.7,391.4 88.7,391.4 L161.1,391.4 Q163.1,391.4 163.1,393.3 L163.1,396.8 M125,391.4 L125,386" fill="none" stroke="#000" stroke-width="1.35"/>
<text x="125" y="382.2" font-size="10.6" text-anchor="middle" font-weight="normal" stroke="#000" stroke-width="0.35">321/290</text>
<path d="M166.9,396.8 L166.9,393.3 Q166.9,391.4 168.9,391.4 L242.2,391.4 Q244.2,391.4 244.2,393.3 L244.2,396.8 M205.6,391.4 L205.6,386" fill="none" stroke="#000" stroke-width="1.35"/>
<text x="205.6" y="382.2" font-size="10.6" text-anchor="middle" font-weight="normal" stroke="#000" stroke-width="0.35">321</text>
<text x="19.2" y="461.6" font-size="11" text-anchor="middle" font-weight="normal" stroke="#000" stroke-width="0.35">0</text>
<text x="44.2" y="461.6" font-size="11" text-anchor="middle" font-weight="normal" stroke="#000" stroke-width="0.35">15</text>
<text x="70.9" y="461.6" font-size="11" text-anchor="middle" font-weight="normal" stroke="#000" stroke-width="0.35">30</text>
<text x="98.4" y="461.6" font-size="11" text-anchor="middle" font-weight="normal" stroke="#000" stroke-width="0.35">0</text>
<text x="124.7" y="461.6" font-size="11" text-anchor="middle" font-weight="normal" stroke="#000" stroke-width="0.35">15</text>
<text x="151.5" y="461.6" font-size="11" text-anchor="middle" font-weight="normal" stroke="#000" stroke-width="0.35">30</text>
<text x="178.8" y="461.6" font-size="11" text-anchor="middle" font-weight="normal" stroke="#000" stroke-width="0.35">0</text>
<text x="204.9" y="461.6" font-size="11" text-anchor="middle" font-weight="normal" stroke="#000" stroke-width="0.35">15</text>
<text x="231.8" y="461.6" font-size="11" text-anchor="middle" font-weight="normal" stroke="#000" stroke-width="0.35">30</text>
<text x="126.1" y="479.5" font-size="14.6" text-anchor="middle" font-weight="normal" stroke="#000" stroke-width="0.35">Time (minutes)</text>
<text x="267.4" y="318.3" font-size="17" text-anchor="start" font-weight="bold" stroke="#000" stroke-width="0.2">F</text>
<rect x="313.8" y="325.6" width="198.7" height="121.4" fill="none" stroke="#000" stroke-width="1.4"/>
<line x1="308.3" y1="447" x2="313.8" y2="447" stroke="#000" stroke-width="1.4"/>
<line x1="308.3" y1="426.8" x2="313.8" y2="426.8" stroke="#000" stroke-width="1.4"/>
<line x1="308.3" y1="406.6" x2="313.8" y2="406.6" stroke="#000" stroke-width="1.4"/>
<line x1="308.3" y1="386.4" x2="313.8" y2="386.4" stroke="#000" stroke-width="1.4"/>
<line x1="308.3" y1="366.2" x2="313.8" y2="366.2" stroke="#000" stroke-width="1.4"/>
<line x1="308.3" y1="346" x2="313.8" y2="346" stroke="#000" stroke-width="1.4"/>
<line x1="308.3" y1="325.8" x2="313.8" y2="325.8" stroke="#000" stroke-width="1.4"/>
<line x1="313.8" y1="447" x2="313.8" y2="453.2" stroke="#000" stroke-width="1.4"/>
<line x1="342.2" y1="447" x2="342.2" y2="453.2" stroke="#000" stroke-width="1.4"/>
<line x1="370.6" y1="447" x2="370.6" y2="453.2" stroke="#000" stroke-width="1.4"/>
<line x1="399" y1="447" x2="399" y2="453.2" stroke="#000" stroke-width="1.4"/>
<line x1="427.4" y1="447" x2="427.4" y2="453.2" stroke="#000" stroke-width="1.4"/>
<line x1="455.8" y1="447" x2="455.8" y2="453.2" stroke="#000" stroke-width="1.4"/>
<line x1="484.2" y1="447" x2="484.2" y2="453.2" stroke="#000" stroke-width="1.4"/>
<line x1="512.6" y1="447" x2="512.6" y2="453.2" stroke="#000" stroke-width="1.4"/>
<text x="305.7" y="452" font-size="12.3" text-anchor="end" font-weight="normal" stroke="#000" stroke-width="0.35">0</text>
<text x="305.7" y="411.6" font-size="12.3" text-anchor="end" font-weight="normal" stroke="#000" stroke-width="0.35">20</text>
<text x="305.7" y="371.2" font-size="12.3" text-anchor="end" font-weight="normal" stroke="#000" stroke-width="0.35">40</text>
<text x="305.7" y="331.4" font-size="12.3" text-anchor="end" font-weight="normal" stroke="#000" stroke-width="0.35">60</text>
<text x="313.8" y="465.6" font-size="12.3" text-anchor="middle" font-weight="normal" stroke="#000" stroke-width="0.35">0</text>
<text x="342.2" y="465.6" font-size="12.3" text-anchor="middle" font-weight="normal" stroke="#000" stroke-width="0.35">5</text>
<text x="371.2" y="465.6" font-size="12.3" text-anchor="middle" font-weight="normal" stroke="#000" stroke-width="0.35">10</text>
<text x="399.6" y="465.6" font-size="12.3" text-anchor="middle" font-weight="normal" stroke="#000" stroke-width="0.35">15</text>
<text x="427.4" y="465.6" font-size="12.3" text-anchor="middle" font-weight="normal" stroke="#000" stroke-width="0.35">20</text>
<text x="455.8" y="465.6" font-size="12.3" text-anchor="middle" font-weight="normal" stroke="#000" stroke-width="0.35">25</text>
<text x="484.2" y="465.6" font-size="12.3" text-anchor="middle" font-weight="normal" stroke="#000" stroke-width="0.35">30</text>
<text x="512.6" y="465.6" font-size="12.3" text-anchor="middle" font-weight="normal" stroke="#000" stroke-width="0.35">35</text>
<text x="0" y="0" font-size="14.6" text-anchor="middle" stroke="#000" stroke-width="0.35" transform="translate(282.83,385.5) rotate(-90)">FXIa activity (nM)</text>
<text x="409.5" y="479.6" font-size="14.6" text-anchor="middle" font-weight="normal" stroke="#000" stroke-width="0.35">Time (minutes)</text>
<path d="M313.8,447.2 C315.69,447.2 321.37,447.4 325.16,447.2 C328.95,447 332.73,446.7 336.52,446 C340.31,445.3 344.09,444.85 347.88,443 C351.67,441.15 355.45,437.6 359.24,434.9 C363.03,432.2 363.97,434.03 370.6,426.8 C377.23,419.57 389.53,401.35 399,391.5 C408.47,381.65 417.93,374.55 427.4,367.7 C436.87,360.85 446.33,352.18 455.8,350.4 C465.27,348.62 474.73,354.35 484.2,357 C493.67,359.65 507.87,364.75 512.6,366.3" fill="none" stroke="#000" stroke-width="1.1"/>
<path d="M313.8,447.2 C315.69,447.2 321.37,447.68 325.16,447.2 C328.95,446.72 332.73,445.38 336.52,444.3 C340.31,443.22 344.09,442.27 347.88,440.7 C351.67,439.13 355.45,437.22 359.24,434.9 C363.03,432.58 363.97,434.62 370.6,426.8 C377.23,418.98 389.53,398.08 399,388 C408.47,377.92 417.93,372.57 427.4,366.3 C436.87,360.03 446.33,352.08 455.8,350.4 C465.27,348.72 474.73,354.13 484.2,356.2 C493.67,358.27 507.87,361.7 512.6,362.8" fill="none" stroke="#000" stroke-width="1.1"/>
<path d="M313.8,447.2 C315.69,447.2 321.37,447.45 325.16,447.2 C328.95,446.95 332.73,446.02 336.52,445.7 C340.31,445.38 344.09,445.47 347.88,445.3 C351.67,445.13 355.45,445.7 359.24,444.7 C363.03,443.7 363.97,449.17 370.6,439.3 C377.23,429.43 389.53,398.95 399,385.5 C408.47,372.05 417.93,364.52 427.4,358.6 C436.87,352.68 446.33,350.4 455.8,350 C465.27,349.6 474.73,354.45 484.2,356.2 C493.67,357.95 507.87,359.78 512.6,360.5" fill="none" stroke="#000" stroke-width="1.1"/>
<line x1="359.24" y1="431.5" x2="359.24" y2="437.8" stroke="#000" stroke-width="1.3"/>
<line x1="353.84" y1="431.5" x2="364.64" y2="431.5" stroke="#000" stroke-width="1.6"/>
<line x1="353.84" y1="437.8" x2="364.64" y2="437.8" stroke="#000" stroke-width="1.6"/>
<line x1="370.6" y1="421" x2="370.6" y2="431.5" stroke="#000" stroke-width="1.3"/>
<line x1="365.2" y1="421" x2="376" y2="421" stroke="#000" stroke-width="1.6"/>
<line x1="365.2" y1="431.5" x2="376" y2="431.5" stroke="#000" stroke-width="1.6"/>
<line x1="399" y1="378.7" x2="399" y2="397.5" stroke="#000" stroke-width="1.3"/>
<line x1="393.6" y1="378.7" x2="404.4" y2="378.7" stroke="#000" stroke-width="1.6"/>
<line x1="393.6" y1="397.5" x2="404.4" y2="397.5" stroke="#000" stroke-width="1.6"/>
<line x1="427.4" y1="349" x2="427.4" y2="372" stroke="#000" stroke-width="1.3"/>
<line x1="422" y1="349" x2="432.8" y2="349" stroke="#000" stroke-width="1.6"/>
<line x1="422" y1="372" x2="432.8" y2="372" stroke="#000" stroke-width="1.6"/>
<line x1="455.8" y1="339.4" x2="455.8" y2="359.6" stroke="#000" stroke-width="1.3"/>
<line x1="450.4" y1="339.4" x2="461.2" y2="339.4" stroke="#000" stroke-width="1.6"/>
<line x1="450.4" y1="359.6" x2="461.2" y2="359.6" stroke="#000" stroke-width="1.6"/>
<line x1="484.2" y1="349" x2="484.2" y2="361.4" stroke="#000" stroke-width="1.3"/>
<line x1="478.8" y1="349" x2="489.6" y2="349" stroke="#000" stroke-width="1.6"/>
<line x1="478.8" y1="361.4" x2="489.6" y2="361.4" stroke="#000" stroke-width="1.6"/>
<line x1="512.6" y1="354.1" x2="512.6" y2="372.6" stroke="#000" stroke-width="1.3"/>
<line x1="507.2" y1="354.1" x2="518" y2="354.1" stroke="#000" stroke-width="1.6"/>
<line x1="507.2" y1="372.6" x2="518" y2="372.6" stroke="#000" stroke-width="1.6"/>
<rect x="310.6" y="444" width="6.4" height="6.4" fill="#fff" stroke="#000" stroke-width="1.4"/>
<rect x="321.96" y="444" width="6.4" height="6.4" fill="#fff" stroke="#000" stroke-width="1.4"/>
<rect x="333.32" y="442.8" width="6.4" height="6.4" fill="#fff" stroke="#000" stroke-width="1.4"/>
<rect x="344.68" y="439.8" width="6.4" height="6.4" fill="#fff" stroke="#000" stroke-width="1.4"/>
<rect x="356.04" y="431.7" width="6.4" height="6.4" fill="#fff" stroke="#000" stroke-width="1.4"/>
<rect x="367.4" y="423.6" width="6.4" height="6.4" fill="#fff" stroke="#000" stroke-width="1.4"/>
<rect x="395.8" y="388.3" width="6.4" height="6.4" fill="#fff" stroke="#000" stroke-width="1.4"/>
<rect x="424.2" y="364.5" width="6.4" height="6.4" fill="#fff" stroke="#000" stroke-width="1.4"/>
<rect x="452.6" y="347.2" width="6.4" height="6.4" fill="#fff" stroke="#000" stroke-width="1.4"/>
<rect x="481" y="353.8" width="6.4" height="6.4" fill="#fff" stroke="#000" stroke-width="1.4"/>
<rect x="509.4" y="363.1" width="6.4" height="6.4" fill="#fff" stroke="#000" stroke-width="1.4"/>
<circle cx="313.8" cy="447.2" r="3.3" fill="#fff" stroke="#000" stroke-width="1.4"/>
<circle cx="325.16" cy="447.2" r="3.3" fill="#fff" stroke="#000" stroke-width="1.4"/>
<circle cx="336.52" cy="445.7" r="3.3" fill="#fff" stroke="#000" stroke-width="1.4"/>
<circle cx="347.88" cy="445.3" r="3.3" fill="#fff" stroke="#000" stroke-width="1.4"/>
<circle cx="359.24" cy="444.7" r="3.3" fill="#fff" stroke="#000" stroke-width="1.4"/>
<circle cx="370.6" cy="439.3" r="3.3" fill="#fff" stroke="#000" stroke-width="1.4"/>
<circle cx="399" cy="385.5" r="3.3" fill="#fff" stroke="#000" stroke-width="1.4"/>
<circle cx="427.4" cy="358.6" r="3.3" fill="#fff" stroke="#000" stroke-width="1.4"/>
<circle cx="455.8" cy="350" r="3.3" fill="#fff" stroke="#000" stroke-width="1.4"/>
<circle cx="484.2" cy="356.2" r="3.3" fill="#fff" stroke="#000" stroke-width="1.4"/>
<circle cx="512.6" cy="360.5" r="3.3" fill="#fff" stroke="#000" stroke-width="1.4"/>
<polygon points="313.8,443.33 310.2,449.57 317.4,449.57" fill="#fff" stroke="#000" stroke-width="1.4" stroke-linejoin="miter"/>
<polygon points="325.16,443.33 321.56,449.57 328.76,449.57" fill="#fff" stroke="#000" stroke-width="1.4" stroke-linejoin="miter"/>
<polygon points="336.52,440.43 332.92,446.67 340.12,446.67" fill="#fff" stroke="#000" stroke-width="1.4" stroke-linejoin="miter"/>
<polygon points="347.88,436.83 344.28,443.07 351.48,443.07" fill="#fff" stroke="#000" stroke-width="1.4" stroke-linejoin="miter"/>
<polygon points="359.24,431.03 355.64,437.27 362.84,437.27" fill="#fff" stroke="#000" stroke-width="1.4" stroke-linejoin="miter"/>
<polygon points="370.6,422.93 367,429.17 374.2,429.17" fill="#fff" stroke="#000" stroke-width="1.4" stroke-linejoin="miter"/>
<polygon points="399,384.13 395.4,390.37 402.6,390.37" fill="#fff" stroke="#000" stroke-width="1.4" stroke-linejoin="miter"/>
<polygon points="427.4,362.43 423.8,368.67 431,368.67" fill="#fff" stroke="#000" stroke-width="1.4" stroke-linejoin="miter"/>
<polygon points="455.8,346.53 452.2,352.77 459.4,352.77" fill="#fff" stroke="#000" stroke-width="1.4" stroke-linejoin="miter"/>
<polygon points="484.2,352.33 480.6,358.57 487.8,358.57" fill="#fff" stroke="#000" stroke-width="1.4" stroke-linejoin="miter"/>
<polygon points="512.6,358.93 509,365.17 516.2,365.17" fill="#fff" stroke="#000" stroke-width="1.4" stroke-linejoin="miter"/>
</svg>
</body></html>
